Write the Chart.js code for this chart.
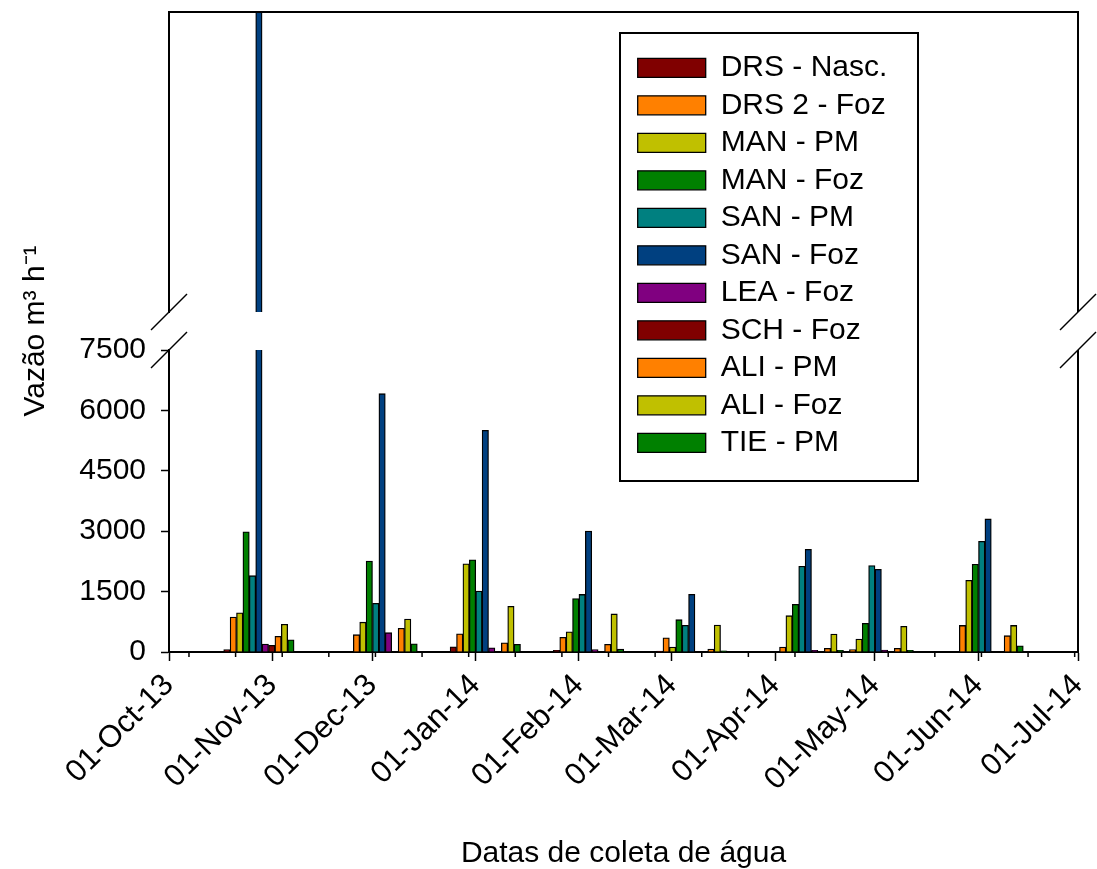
<!DOCTYPE html>
<html>
<head>
<meta charset="utf-8">
<script src="https://cdn.jsdelivr.net/npm/chart.js@4/dist/chart.umd.min.js"></script>
<style>
  html, body { margin: 0; padding: 0; background: #fff; }
  #wrap { width: 1097px; height: 869px; position: relative; }
</style>
</head>
<body>
<div id="wrap"><canvas id="vazaoChart"></canvas></div>
<script>
const FONT = "'Liberation Sans', Arial, sans-serif";

// datas das coletas
const sampleDates = ['2013-10-28', '2013-12-04', '2014-01-04', '2014-02-04', '2014-03-07', '2014-04-11', '2014-05-02', '2014-06-04'];

const seriesNames = ['DRS - Nasc.', 'DRS 2 - Foz', 'MAN - PM', 'MAN - Foz', 'SAN - PM', 'SAN - Foz', 'LEA - Foz', 'SCH - Foz', 'ALI - PM', 'ALI - Foz', 'TIE - PM'];
const seriesColors = ['#800000', '#ff8000', '#c0c000', '#008000', '#008080', '#004080', '#800080', '#800000', '#ff8000', '#c0c000', '#008000'];

// vazão (m3/h) por ponto
const drsNasc = [60, 0, 130, 40, 20, 0, 0, 0];
const drs2Foz = [870, 430, 450, 365, 355, 124, 58, 660];
const manPM   = [975, 740, 2190, 500, 124, 902, 323, 1780];
const manFoz  = [2985, 2260, 2290, 1325, 803, 1184, 713, 2180];
const sanPM   = [1895, 1210, 1515, 1430, 663, 2130, 2145, 2750];
const sanFoz  = [16000, 6415, 5505, 3005, 1433, 2550, 2055, 3305];
const leaFoz  = [195, 480, 105, 60, 0, 40, 45, 0];
const schFoz  = [165, 0, 0, 0, 0, 0, 0, 0];
const aliPM   = [390, 590, 230, 190, 75, 91, 91, 405];
const aliFoz  = [690, 820, 1135, 945, 670, 447, 638, 660];
const tiePM   = [305, 205, 190, 70, 30, 40, 40, 155];
const seriesValues = [drsNasc, drs2Foz, manPM, manFoz, sanPM, sanFoz, leaFoz, schFoz, aliPM, aliFoz, tiePM];

// eixos
const tickDates  = ['2013-10-01', '2013-11-01', '2013-12-01', '2014-01-01', '2014-02-01', '2014-03-01', '2014-04-01', '2014-05-01', '2014-06-01', '2014-07-01'];
const tickLabels = ['01-Oct-13', '01-Nov-13', '01-Dec-13', '01-Jan-14', '01-Feb-14', '01-Mar-14', '01-Apr-14', '01-May-14', '01-Jun-14', '01-Jul-14'];
const yTicks = [0, 1500, 3000, 4500, 6000, 7500];
const BREAK_LOW = 7500;
const BREAK_HIGH = 15000;

const T0 = Date.parse(tickDates[0]);
const toDay = s => (Date.parse(s) - T0) / 864e5;
const X_MAX = toDay(tickDates[tickDates.length - 1]);

// marcas secundarias a cada 2 semanas
const minorTickDays = [];
for (let d = toDay('2013-10-07'); d < X_MAX; d += 14) minorTickDays.push(d);

const LEGEND_BOX = { left: 620, top: 33, width: 298, height: 448 };

const lowerSets = seriesNames.map((name, i) => ({
    label: name,
    data: sampleDates.map((d, j) => ({ x: toDay(d), y: seriesValues[i][j] })),
    backgroundColor: seriesColors[i],
    borderColor: '#000',
    borderWidth: 1.3,
    stack: 's' + i,
    yAxisID: 'y'
}));
const upperSets = seriesNames.map((name, i) => ({
    label: name,
    data: sampleDates.map((d, j) => ({ x: toDay(d), y: seriesValues[i][j] > BREAK_LOW ? seriesValues[i][j] : null })),
    backgroundColor: seriesColors[i],
    borderColor: '#000',
    borderWidth: 1.3,
    stack: 's' + i,
    yAxisID: 'yTop'
}));

// cada serie fica recortada no seu painel
const panelClip = {
    id: 'panelClip',
    beforeDatasetDraw(chart, args) {
        const ys = args.meta.yScale;
        const ctx = chart.ctx;
        ctx.save();
        ctx.beginPath();
        ctx.rect(chart.chartArea.left, ys.top, chart.chartArea.width, ys.bottom - ys.top);
        ctx.clip();
    },
    afterDatasetDraw(chart) {
        chart.ctx.restore();
    }
};

// legenda dentro do grafico
const legendPlace = {
    id: 'legendPlace',
    afterLayout(chart) {
        const lg = chart.legend;
        const w = lg.width, h = lg.height;
        lg.left = LEGEND_BOX.left + 10.2;
        lg.top = LEGEND_BOX.top + 12.3;
        lg.right = lg.left + w;
        lg.bottom = lg.top + h;
    }
};

const axisDecor = {
    id: 'axisDecor',
    afterDraw(chart) {
        const { ctx, chartArea, scales } = chart;
        const low = scales.y, up = scales.yTop, xs = scales.x;
        ctx.save();
        ctx.strokeStyle = '#000';
        ctx.lineWidth = 2;
        ctx.beginPath();
        ctx.moveTo(chartArea.left, up.top);
        ctx.lineTo(chartArea.right, up.top);
        ctx.lineTo(chartArea.right, up.bottom);
        ctx.moveTo(chartArea.right, low.top);
        ctx.lineTo(chartArea.right, low.bottom);
        ctx.stroke();

        // quebra do eixo
        ctx.lineWidth = 1.5;
        [chartArea.left, chartArea.right].forEach(x => {
            [up.bottom, low.top].forEach(y => {
                ctx.beginPath();
                ctx.moveTo(x - 18, y + 18);
                ctx.lineTo(x + 18, y - 18);
                ctx.stroke();
            });
        });

        minorTickDays.forEach(d => {
            const px = xs.getPixelForValue(d);
            ctx.beginPath();
            ctx.moveTo(px, xs.top);
            ctx.lineTo(px, xs.top + 5);
            ctx.stroke();
        });

        ctx.lineWidth = 2;
        ctx.strokeRect(LEGEND_BOX.left, LEGEND_BOX.top, LEGEND_BOX.width, LEGEND_BOX.height);
        ctx.restore();
    }
};

const font30 = { family: FONT, size: 30 };

new Chart(document.getElementById('vazaoChart'), {
    type: 'bar',
    data: { datasets: [...lowerSets, ...upperSets] },
    options: {
        responsive: true,
        maintainAspectRatio: false,
        animation: false,
        events: [],
        layout: { padding: { top: 12, right: 19, left: 0, bottom: 0 } },
        datasets: { bar: { barThickness: 6.4, grouped: true } },
        plugins: {
            legend: {
                position: 'chartArea',
                align: 'start',
                labels: {
                    boxWidth: 68,
                    boxHeight: 19,
                    padding: 7.5,
                    color: '#000',
                    font: font30,
                    filter: item => item.datasetIndex < seriesNames.length
                }
            },
            tooltip: { enabled: false }
        },
        scales: {
            x: {
                type: 'linear',
                position: 'bottom',
                min: 0,
                max: X_MAX,
                offset: false,
                afterBuildTicks: s => { s.ticks = tickDates.map(d => ({ value: toDay(d) })); },
                afterFit: s => { s.height = 217; s.paddingLeft = 0; s.paddingRight = 0; },
                ticks: {
                    autoSkip: false,
                    maxRotation: 45,
                    minRotation: 45,
                    padding: 6,
                    color: '#000',
                    font: { family: FONT, size: 31 },
                    callback: (v, i) => tickLabels[i]
                },
                grid: { drawOnChartArea: false, offset: false, color: '#000', tickLength: 9, tickWidth: 1.5 },
                border: { color: '#000', width: 2 },
                title: { display: true, text: 'Datas de coleta de água', color: '#000', font: font30, padding: { top: 0, bottom: -3 } }
            },
            y: {
                type: 'linear',
                position: 'left',
                stack: 'vazao',
                stackWeight: 302,
                weight: 1,
                stacked: false,
                min: 0,
                max: BREAK_LOW,
                afterBuildTicks: s => { s.ticks = yTicks.map(v => ({ value: v })); },
                afterFit: s => { s.width = 169; s.paddingTop = 0; s.paddingBottom = 0; },
                ticks: { color: '#000', font: font30, padding: 15, callback: v => String(v) },
                grid: { drawOnChartArea: false, color: '#000', tickLength: 8, tickWidth: 1.5 },
                border: { color: '#000', width: 2 }
            },
            yGap: {
                type: 'linear',
                position: 'left',
                stack: 'vazao',
                stackWeight: 38,
                weight: 2,
                min: 0,
                max: 1,
                afterFit: s => { s.width = 169; s.paddingTop = 0; s.paddingBottom = 0; },
                ticks: { display: false },
                grid: { display: false },
                border: { display: false },
                title: { display: true, text: 'Vazão m³ h⁻¹', color: '#000', font: font30, padding: { top: 18, bottom: 0 } }
            },
            yTop: {
                type: 'linear',
                position: 'left',
                stack: 'vazao',
                stackWeight: 300,
                weight: 3,
                stacked: false,
                min: BREAK_LOW,
                max: BREAK_HIGH,
                afterFit: s => { s.width = 169; s.paddingTop = 0; s.paddingBottom = 0; },
                ticks: { display: false },
                grid: { display: false },
                border: { color: '#000', width: 2 }
            }
        }
    },
    plugins: [panelClip, legendPlace, axisDecor]
});
</script>
</body>
</html>
